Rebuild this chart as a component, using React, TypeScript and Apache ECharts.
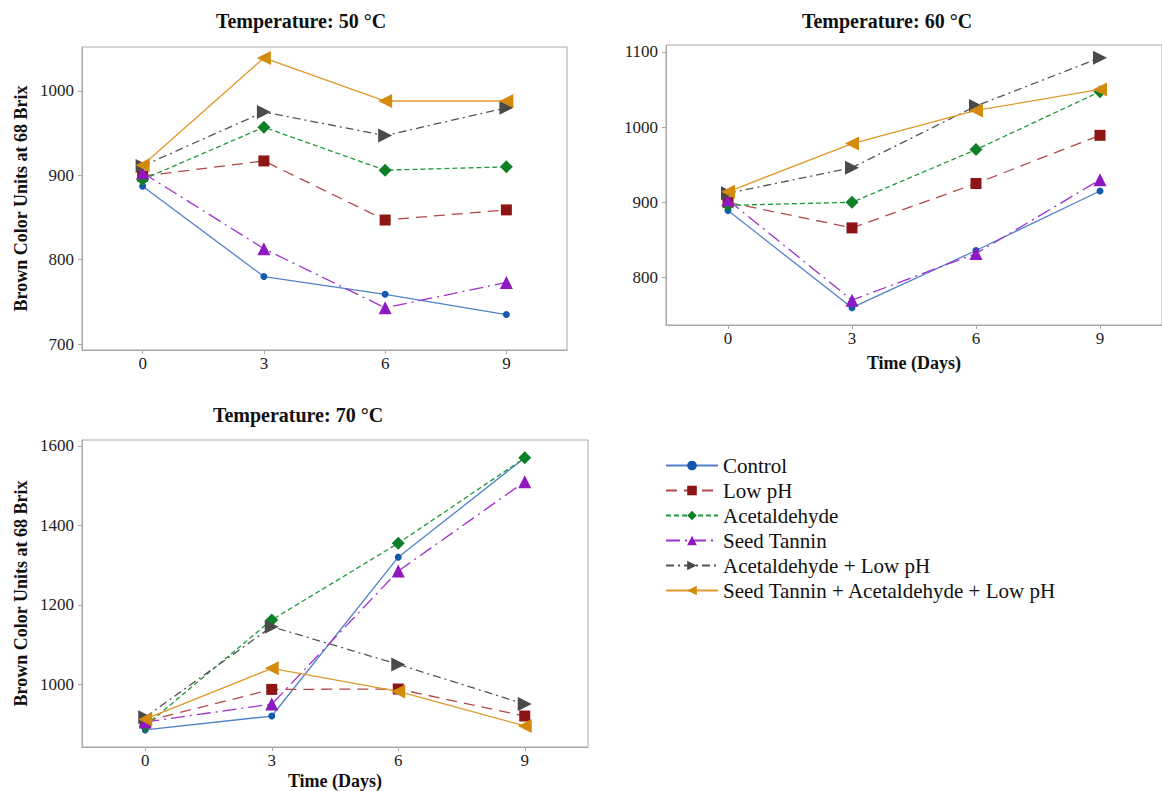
import React, { useEffect, useRef } from 'react';
import * as echarts from 'echarts';

const days = ['0', '3', '6', '9'];
const panelTitles = ['Temperature: 50 °C', 'Temperature: 60 °C', 'Temperature: 70 °C'];
const seriesNames = [
  'Control',
  'Low pH',
  'Acetaldehyde',
  'Seed Tannin',
  'Acetaldehyde + Low pH',
  'Seed Tannin + Acetaldehyde + Low pH',
];
const yAxisTitle = 'Brown Color Units at 68 Brix';
const xAxisTitle = 'Time (Days)';

// 50 °C
const control50 = [887, 780, 759, 735];
const lowPH50 = [899, 917, 847, 859];
const acet50 = [895, 957, 906, 910];
const tannin50 = [903, 813, 743, 773];
const acetLowPH50 = [911, 975, 947, 980];
const allThree50 = [912, 1039, 988, 988];
// 60 °C
const control60 = [889, 760, 836, 915];
const lowPH60 = [900, 866, 925, 989];
const acet60 = [896, 900, 970, 1047];
const tannin60 = [903, 770, 832, 930];
const acetLowPH60 = [912, 946, 1028, 1092];
const allThree60 = [914, 978, 1022, 1050];
// 70 °C
const control70 = [885, 920, 1320, 1570];
const lowPH70 = [907, 987, 988, 920];
const acet70 = [895, 1162, 1355, 1570];
const tannin70 = [905, 950, 1285, 1510];
const acetLowPH70 = [917, 1145, 1050, 950];
const allThree70 = [912, 1040, 982, 895];

const yTicks50 = [700, 800, 900, 1000];
const yTicks60 = [800, 900, 1000, 1100];
const yTicks70 = [1000, 1200, 1400, 1600];
const yRange50 = [693, 1052];
const yRange60 = [737, 1109];
const yRange70 = [842, 1615];

const panelData = [
  [control50, lowPH50, acet50, tannin50, acetLowPH50, allThree50],
  [control60, lowPH60, acet60, tannin60, acetLowPH60, allThree60],
  [control70, lowPH70, acet70, tannin70, acetLowPH70, allThree70],
];
const panelTicks = [yTicks50, yTicks60, yTicks70];
const panelRanges = [yRange50, yRange60, yRange70];

const FONT = "'Liberation Serif', 'Times New Roman', serif";

const styles = [
  { line: '#4f82c8', mark: '#1458b0', symbol: 'circle', size: 7, dash: 'solid' as any },
  { line: '#b04848', mark: '#8e1515', symbol: 'rect', size: 11, dash: [11, 7] },
  { line: '#1f9a3a', mark: '#108028', symbol: 'diamond', size: 13, dash: [5, 3] },
  { line: '#a030d0', mark: '#9018c0', symbol: 'triangle', size: 13, dash: [14, 5, 2, 5] },
  { line: '#555555', mark: '#4a4a4a', symbol: 'path://M0,0 L10,5 L0,10 Z', size: 14, dash: [8, 4, 2, 4] },
  { line: '#e0982a', mark: '#d48a0c', symbol: 'path://M10,0 L0,5 L10,10 Z', size: 14, dash: 'solid' as any },
];

const grids = [
  { left: 82, top: 47, width: 485, height: 303 },
  { left: 666, top: 45, width: 510, height: 280 },
  { left: 82, top: 440, width: 506, height: 308 },
];
const titlePos = [
  { left: 296, top: 6 },
  { left: 882, top: 6 },
  { left: 293, top: 400 },
];
const xNameGaps = [0, 29, 25];

export default function App() {
  const ref = useRef<HTMLDivElement>(null);
  useEffect(() => {
    if (!ref.current) return;
    const chart = echarts.init(ref.current, undefined, { renderer: 'svg' });
    const axisColor = '#a8a8a8';
    const labelStyle = { fontFamily: FONT, fontSize: 17, color: '#222' };

    const xAxes = grids.map((_, i) => ({
      type: 'category',
      gridIndex: i,
      data: days,
      boundaryGap: true,
      axisLine: { show: true, lineStyle: { color: axisColor } },
      axisTick: { show: true, alignWithLabel: true, length: 4, lineStyle: { color: axisColor } },
      axisLabel: { ...labelStyle, margin: 5 },
      splitLine: { show: false },
      name: i === 0 ? '' : xAxisTitle,
      nameLocation: 'middle',
      nameGap: xNameGaps[i],
      nameTextStyle: { fontFamily: FONT, fontSize: 18, fontWeight: 'bold', color: '#111' },
    }));

    const yAxes = grids.map((_, i) => ({
      type: 'value',
      gridIndex: i,
      min: panelRanges[i][0],
      max: panelRanges[i][1],
      axisLine: { show: true, lineStyle: { color: axisColor } },
      axisTick: { show: true, length: 4, customValues: panelTicks[i], lineStyle: { color: axisColor } },
      axisLabel: {
        ...labelStyle,
        margin: 8,
        customValues: panelTicks[i],
        formatter: (v: number) => String(v),
      },
      splitLine: { show: false },
      name: i === 1 ? '' : yAxisTitle,
      nameLocation: 'middle',
      nameGap: 52,
      nameRotate: 90,
      nameTextStyle: { fontFamily: FONT, fontSize: 18, fontWeight: 'bold', color: '#111' },
    }));

    const series: any[] = [];
    panelData.forEach((group, p) => {
      group.forEach((vals, s) => {
        const st = styles[s];
        series.push({
          type: 'line',
          name: seriesNames[s],
          xAxisIndex: p,
          yAxisIndex: p,
          data: vals,
          symbol: st.symbol,
          symbolSize: st.size,
          showSymbol: true,
          lineStyle: { color: st.line, width: 1.3, type: st.dash },
          itemStyle: { color: st.mark, borderWidth: 0 },
          emphasis: { disabled: true },
          z: 2 + s,
        });
      });
    });

    chart.setOption({
      animation: false,
      backgroundColor: '#ffffff',
      textStyle: { fontFamily: FONT },
      title: panelTitles.map((t, i) => ({
        text: t,
        left: titlePos[i].left,
        top: titlePos[i].top,
        textAlign: 'center',
        textStyle: { fontFamily: FONT, fontSize: 20, fontWeight: 'bold', color: '#111' },
      })),
      grid: grids.map((g) => ({ ...g, show: true, borderColor: axisColor, borderWidth: 1, backgroundColor: 'transparent' })),
      xAxis: xAxes,
      yAxis: yAxes,
      legend: {
        data: seriesNames,
        orient: 'vertical',
        left: 660,
        top: 450,
        itemWidth: 52,
        itemHeight: 12,
        itemGap: 4,
        selectedMode: false,
        textStyle: { fontFamily: FONT, fontSize: 21, color: '#111' },
      },
      series,
    });
    return () => chart.dispose();
  }, []);
  return (
    <div
      ref={ref}
      style={{ position: 'fixed', left: 0, top: 0, width: 1162, height: 791, background: '#fff' }}
    />
  );
}
